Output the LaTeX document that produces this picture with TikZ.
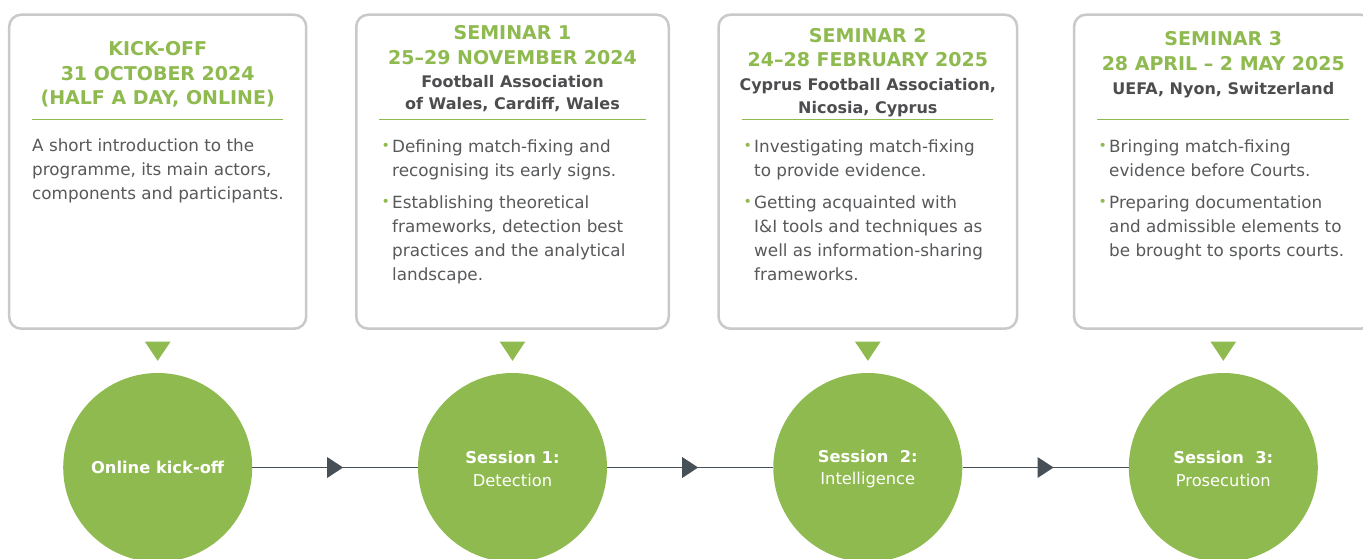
\documentclass[tikz,border=0pt]{standalone}
\usepackage{fontspec}
\setmainfont{DejaVu Sans}
\usetikzlibrary{calc,decorations.markings}
\definecolor{uGreen}{RGB}{143,186,79}
\definecolor{uText}{RGB}{88,89,91}
\definecolor{uDark}{RGB}{77,77,79}
\definecolor{uLine}{RGB}{71,79,87}
\definecolor{uBorder}{RGB}{201,201,201}
\newcommand{\bul}{\makebox[10.5pt][l]{\textcolor{uGreen}{\fontsize{14}{14}\selectfont\raisebox{2.2pt}{•}}}}
\newcommand{\bitem}[1]{\par\noindent\hangindent=10.5pt\hangafter=1\bul #1\par}
\tikzset{
  box/.style={draw=uBorder, line width=2.5pt, rounded corners=12pt, fill=white, inner sep=0pt},
  ball/.style={circle, fill=uGreen, inner sep=0pt, minimum size=189pt, text=white, align=center, font=\fontsize{16.3}{22.5}\selectfont},
  balltwo/.style={ball, text height=38pt},
  conn/.style={draw=uLine, line width=1.8pt, postaction={decorate},
    decoration={markings, mark=at position 0.5 with {\fill[uLine] (8pt,0pt) -- (-8pt,10.5pt) -- (-8pt,-10.5pt) -- cycle;}}},
  sepline/.style={fill=uGreen},
  marker/.style={fill=uGreen},
  txt/.style={inner sep=0pt, anchor=base west, text=uText},
  head/.style={inner sep=0pt, anchor=base, text=uGreen},
  loc/.style={inner sep=0pt, anchor=base, text=uDark},
}
\newcommand{\heads}[1]{\parbox[t]{300pt}{\centering\fontsize{19}{24.2}\selectfont\bfseries #1}}
\newcommand{\locs}[1]{\parbox[t]{300pt}{\centering\fontsize{16}{22.7}\selectfont\bfseries #1}}
\newcommand{\body}[1]{\parbox[t]{290pt}{\fontsize{16.8}{24}\selectfont #1}}
\begin{document}
\begin{tikzpicture}[x=1pt,y=-1pt]
\useasboundingbox (0,0) rectangle (1363,559);
% boxes
\node[box, minimum width=297pt, minimum height=314pt] (b1) at (157.7,171.7) {};
\node[box, minimum width=312.5pt, minimum height=314pt] (b2) at (512.5,171.7) {};
\node[box, minimum width=298.5pt, minimum height=314pt] (b3) at (867.8,171.7) {};
\node[box, minimum width=298.5pt, minimum height=314pt] (b4) at (1223.3,171.7) {};
% headings
\node[head] (h1) at (157.7,56) {\heads{KICK-OFF\\31 OCTOBER 2024\\(HALF A DAY, ONLINE)}};
\node[head] (h2) at (512.5,40) {\heads{SEMINAR 1\\25–29 NOVEMBER 2024}};
\node[loc] (l2) at (512.5,87.3) {\locs{Football Association\\of Wales, Cardiff, Wales}};
\node[head] (h3) at (867.8,42.7) {\heads{SEMINAR 2\\24–28 FEBRUARY 2025}};
\node[loc] (l3) at (867.8,90.7) {\locs{Cyprus Football Association,\\Nicosia, Cyprus}};
\node[head] (h4) at (1223.3,46) {\heads{SEMINAR 3\\28 APRIL – 2 MAY 2025}};
\node[loc] (l4) at (1223.3,94.3) {\locs{UEFA, Nyon, Switzerland}};
% separators
\fill[sepline] (32.3,118.8) rectangle (283.3,120.4);
\fill[sepline] (379,118.8) rectangle (646,120.4);
\fill[sepline] (741.7,118.8) rectangle (993.3,120.4);
\fill[sepline] (1096.7,118.8) rectangle (1349.3,120.4);
% body texts
\node[txt] (t1) at (32,151.7) {\body{A short introduction to the\\programme, its main actors,\\components and participants.}};
\node[txt] (t2) at (381.5,152.7) {\body{\bitem{Defining match-fixing and\\recognising its early signs.}\vspace{8pt}\bitem{Establishing theoretical\\frameworks, detection best\\practices and the analytical\\landscape.}}};
\node[txt] (t3) at (743.5,152.7) {\body{\bitem{Investigating match-fixing\\to provide evidence.}\vspace{8pt}\bitem{Getting acquainted with\\I\&I tools and techniques as\\well as information-sharing\\frameworks.}}};
\node[txt] (t4) at (1098.5,152.7) {\body{\bitem{Bringing match-fixing\\evidence before Courts.}\vspace{8pt}\bitem{Preparing documentation\\and admissible elements to\\be brought to sports courts.}}};
% circles
\node[ball] (c1) at (157.7,467.5) {\textbf{Online kick-off}};
\node[balltwo] (c2) at (512.5,467.5) {\textbf{Session 1:}\\Detection};
\node[balltwo] (c3) at (867.8,467.5) {\textbf{Session\ \ 2:}\\Intelligence};
\node[balltwo] (c4) at (1223.3,467.5) {\textbf{Session\ \ 3:}\\Prosecution};
% markers
\foreach \c in {c1,c2,c3,c4}{
  \fill[marker] ($(\c.north)+(-12.9,-31.3)$) -- ($(\c.north)+(12.9,-31.3)$) -- ($(\c.north)+(0,-12)$) -- cycle;
}
% connectors
\draw[conn] (c1) -- (c2);
\draw[conn] (c2) -- (c3);
\draw[conn] (c3) -- (c4);
\end{tikzpicture}
\end{document}
